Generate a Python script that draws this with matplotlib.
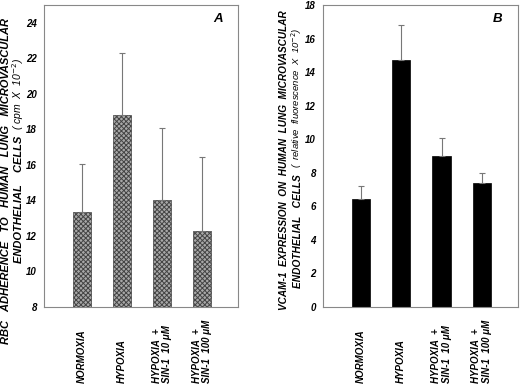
import matplotlib
matplotlib.use("Agg")
import matplotlib.pyplot as plt
import matplotlib.transforms as mtransforms

# ---- data ----
groups = ["NORMOXIA", "HYPOXIA", "HYPOXIA  +\nSIN-1  10 \u03bcM", "HYPOXIA  +\nSIN-1  100 \u03bcM"]
rbc_mean = [13.35, 18.8, 14.0, 12.3]
rbc_top = [16.05, 22.3, 18.1, 16.45]
vcam_mean = [6.45, 14.75, 9.0, 7.4]
vcam_top = [7.2, 16.8, 10.05, 8.0]
rbc_ticks = [8, 10, 12, 14, 16, 18, 20, 22, 24]
vcam_ticks = [0, 2, 4, 6, 8, 10, 12, 14, 16, 18]

plt.rcParams['font.family'] = ['Liberation Sans', 'DejaVu Sans']
plt.rcParams['hatch.linewidth'] = 0.7
plt.rcParams['hatch.color'] = '#222222'

W, H = 520, 388
fig = plt.figure(figsize=(5.2, 3.88), dpi=100)
axA = fig.add_axes([0.0846, 0.2088, 0.373, 0.778])
axB = fig.add_axes([0.621, 0.2088, 0.375, 0.778])

x = [1, 2, 3, 4]
font = dict(fontweight='bold', fontstyle='italic')


def style_axis(ax, ticks, ylim, letter):
    ax.set_xlim(0.05, 4.9)
    ax.set_ylim(*ylim)
    ax.set_yticks(ticks)
    ax.set_yticklabels([str(t) for t in ticks], fontsize=7, **font)
    ax.set_xticks([])
    ax.tick_params(axis='y', length=0, pad=5)
    for s in ax.spines.values():
        s.set_color('#888888')
        s.set_linewidth(0.8)
    ax.text(0.92, 0.975, letter, transform=ax.transAxes, ha='right', va='top',
            fontsize=9.5, **font)
    tr = mtransforms.blended_transform_factory(ax.transData, fig.transFigure)
    for xi, g in zip(x, groups):
        ax.text(xi, 0.013, g, transform=tr, rotation=90, ha='center', va='bottom',
                multialignment='left', fontsize=7, linespacing=1.1, **font)


# panel A
axA.bar(x, rbc_mean, width=0.45, color='#a8a8a8', hatch='xxxxxxx',
        edgecolor='#444444', linewidth=0.5)
axA.errorbar(x, rbc_mean, yerr=[[0] * 4, [t - m for t, m in zip(rbc_top, rbc_mean)]],
             fmt='none', ecolor='#777777', elinewidth=0.8, capsize=2, capthick=0.8)
style_axis(axA, rbc_ticks, (8, 25), 'A')

# panel B
axB.bar(x, vcam_mean, width=0.45, color='black', edgecolor='black', linewidth=0.5)
axB.errorbar(x, vcam_mean, yerr=[[0] * 4, [t - m for t, m in zip(vcam_top, vcam_mean)]],
             fmt='none', ecolor='#777777', elinewidth=0.8, capsize=2, capthick=0.8)
style_axis(axB, vcam_ticks, (0, 18), 'B')

# y labels: first line
fig.text(6 / W, 1 - 181 / H, "RBC   ADHERENCE   TO   HUMAN   LUNG   MICROVASCULAR",
         rotation=90, ha='center', va='center', fontsize=8, **font)
fig.text(284 / W, 1 - 160 / H, "VCAM-1  EXPRESSION  ON  HUMAN  LUNG  MICROVASCULAR",
         rotation=90, ha='center', va='center', fontsize=7.2, **font)


# second lines: bold part + light parenthetical
def second_line(xpix, ybot_pix, size, bold_txt, light_txt, light_size):
    t = fig.text(xpix / W, 1 - ybot_pix / H, bold_txt, rotation=90,
                 ha='center', va='bottom', fontsize=size, **font)
    fig.canvas.draw()
    bb = t.get_window_extent()
    fig.text((xpix - 1) / W, (bb.y1 + 6) / fig.bbox.height, light_txt, rotation=90,
             ha='center', va='bottom', fontsize=light_size, fontstyle='italic')


second_line(19, 263, 8, "ENDOTHELIAL    CELLS", "( cpm  X  10$^{-2}$)", 7.5)
second_line(298, 288, 7.3, "ENDOTHELIAL   CELLS",
            "(  relative  fluorescence  X  10$^{-2}$)", 6.8)

fig.savefig('out.png', dpi=100)
